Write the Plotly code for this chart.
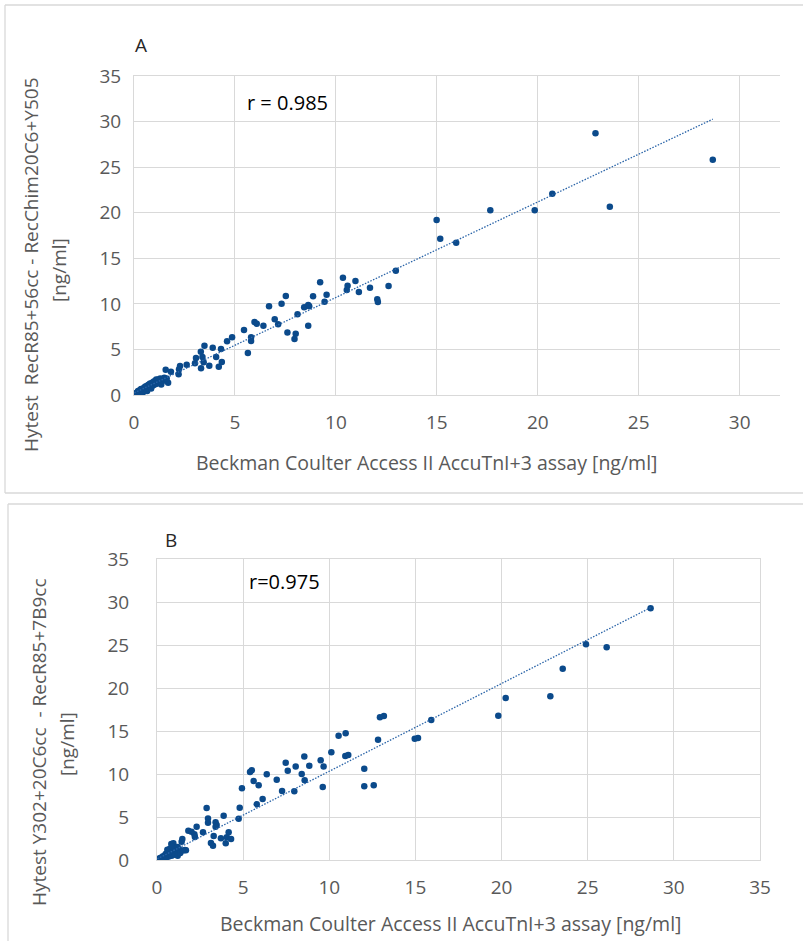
import plotly.graph_objects as go

# ---------------- data ----------------
a_x = [28.67, 22.86, 23.57, 20.72, 19.85, 17.65, 14.99, 15.17, 15.96, 12.97, 12.61, 11.69, 11.14, 12.05, 12.08,
       10.35, 9.22, 10.97, 10.58, 10.54, 7.52, 7.31, 6.69, 8.87, 9.54, 9.44, 8.63, 8.43, 8.68, 8.10,
       6.97, 7.14, 5.97, 6.08, 6.41, 8.63, 7.60, 8.01, 7.95, 5.45, 5.80, 5.80, 5.64, 4.86, 4.61,
       3.49, 3.90, 4.31, 3.31, 3.07, 3.39, 4.07, 3.45, 3.02, 4.35, 3.73, 4.20, 3.32, 2.61, 2.28,
       2.23, 1.83, 1.57, 2.21, 1.69,
       1.50, 1.45, 1.35, 1.30, 1.25, 1.20, 1.10, 1.05, 1.00, 0.95, 0.90, 0.85, 0.80, 0.75, 0.70,
       0.65, 0.60, 0.55, 0.50, 0.45, 0.40, 0.38, 0.33, 0.30, 0.27, 0.25, 0.22, 0.20, 0.18, 0.15,
       0.13, 0.11, 0.09, 0.07, 0.05, 0.04, 0.03, 0.02, 0.06, 0.10, 0.14, 0.16, 0.28, 0.35, 0.42,
       0.50, 0.58, 0.68, 0.78, 0.88, 0.98, 1.08, 1.15, 1.30, 1.40, 1.10, 1.62,
       0.20, 0.35, 0.55, 0.75, 0.95, 1.20, 0.45, 0.65, 0.85, 1.35]
a_y = [25.82, 28.71, 20.66, 22.09, 20.26, 20.26, 19.20, 17.15, 16.71, 13.64, 11.96, 11.78, 11.30, 10.50, 10.20,
       12.87, 12.36, 12.50, 12.00, 11.52, 10.86, 10.02, 9.73, 10.83, 11.00, 10.24, 9.87, 9.62, 9.73, 8.85,
       8.30, 7.75, 8.00, 7.83, 7.61, 7.61, 6.87, 6.73, 6.14, 7.13, 6.33, 5.93, 4.60, 6.33, 5.89,
       5.41, 5.19, 5.05, 4.75, 4.06, 4.17, 4.17, 3.58, 3.47, 3.62, 3.22, 3.11, 2.93, 3.33, 3.18,
       2.82, 2.56, 2.78, 2.27, 1.35,
       1.90, 1.75, 1.65, 1.80, 1.60, 1.45, 1.55, 1.35, 1.50, 1.20, 1.35, 1.10, 1.25, 1.00, 1.10,
       0.85, 0.95, 0.75, 0.80, 0.60, 0.65, 0.50, 0.45, 0.55, 0.35, 0.40, 0.30, 0.22, 0.30, 0.18,
       0.25, 0.12, 0.15, 0.08, 0.10, 0.04, 0.06, 0.02, 0.02, 0.05, 0.10, 0.08, 0.25, 0.30, 0.45,
       0.55, 0.65, 0.75, 0.90, 0.95, 1.10, 1.20, 1.30, 1.40, 1.50, 1.70, 1.80,
       0.45, 0.65, 0.90, 1.15, 1.40, 1.70, 0.30, 0.45, 0.70, 1.15]

b_x = [28.65, 26.10, 24.90, 23.55, 22.83, 20.24, 19.81, 15.92, 14.96, 15.15, 12.94, 13.17, 12.83, 10.54, 10.95,
       10.93, 11.10, 10.12, 8.55, 7.47, 9.50, 8.84, 8.05, 9.67, 7.59, 8.40, 5.40, 5.50, 6.37, 6.95,
       8.57, 5.61, 5.90, 12.03, 12.03, 12.58, 9.62, 4.93, 7.26, 7.97, 6.13, 5.79, 4.80, 4.74, 2.88,
       2.96, 2.96, 3.87, 3.40, 3.46, 3.40, 2.30, 1.82, 2.00, 2.17, 2.20, 2.67, 3.29, 4.16, 3.71,
       4.05, 4.30, 3.99, 3.13, 3.25, 1.47, 1.43, 0.83, 1.68, 1.14, 1.62, 0.95,
       1.00, 1.10, 1.30, 1.25, 0.90, 0.80, 0.70, 0.60, 0.65, 0.50, 0.55, 0.45, 0.40, 0.35, 0.30,
       0.25, 0.20, 0.15, 0.12, 0.10, 0.08, 0.05, 0.03, 0.02, 0.18, 0.28, 0.38, 0.48, 0.58, 0.68,
       0.75, 0.85, 0.95, 1.05, 1.20, 1.35, 0.60, 0.75, 0.90, 1.50, 1.20]
b_y = [29.27, 24.73, 25.08, 22.25, 19.03, 18.84, 16.78, 16.28, 14.11, 14.19, 16.59, 16.74, 13.99, 14.46, 14.73,
       12.09, 12.21, 12.52, 12.03, 11.31, 11.59, 10.97, 10.88, 10.88, 10.38, 10.00, 10.23, 10.43, 9.96, 9.33,
       9.26, 9.19, 8.68, 10.62, 8.57, 8.68, 8.49, 8.33, 8.02, 7.98, 7.08, 6.47, 6.09, 4.81, 6.05,
       4.84, 4.34, 5.15, 4.38, 4.07, 3.88, 3.88, 3.41, 3.29, 2.98, 2.67, 3.22, 2.79, 3.22, 2.52,
       2.64, 2.44, 1.94, 1.98, 1.66, 2.44, 2.13, 1.86, 1.13, 0.85, 1.16, 1.94,
       1.40, 1.00, 1.20, 0.90, 1.10, 0.90, 1.00, 0.80, 0.55, 0.70, 0.45, 0.50, 0.35, 0.45, 0.25,
       0.30, 0.15, 0.20, 0.08, 0.12, 0.05, 0.03, 0.05, 0.01, 0.10, 0.18, 0.25, 0.30, 0.35, 0.40,
       0.60, 0.50, 0.70, 0.60, 0.50, 0.80, 1.20, 1.30, 1.50, 1.10, 1.50]

# trendline parameters
a_slope, a_intercept = 1.048, 0.22
b_slope, b_intercept = 1.02, 0.12

a_r_label = "r = 0.985"
b_r_label = "r=0.975"
x_title = "Beckman Coulter Access II AccuTnI+3 assay [ng/ml]"
a_y_title = "Hytest\u00a0 RecR85+56cc - RecChim20C6+Y505"
b_y_title = "Hytest Y302+20C6cc\u00a0 - RecR85+7B9cc"
unit_line = "[ng/ml]"

a_xticks = [0, 5, 10, 15, 20, 25, 30]
b_xticks = [0, 5, 10, 15, 20, 25, 30, 35]
yticks = [0, 5, 10, 15, 20, 25, 30, 35]

# ---------------- figure ----------------
W, H = 803, 941
MARK = "#0B4A8B"
TREND = "#2A64A8"
GRID = "#D9D9D9"
TXT = "#595959"
FONT = "Open Sans"
DOT = "1.5px,1.5px"

def px(x):
    return x / W

def py(y):
    return 1 - y / H

fig = go.Figure()

fig.add_trace(go.Scatter(x=a_x, y=a_y, mode="markers", xaxis="x", yaxis="y",
                         marker=dict(color=MARK, size=6.5, line=dict(width=0)),
                         showlegend=False, hoverinfo="x+y"))
ax_ends = [min(a_x), max(a_x)]
fig.add_trace(go.Scatter(x=ax_ends, y=[a_slope * v + a_intercept for v in ax_ends],
                         mode="lines", xaxis="x", yaxis="y",
                         line=dict(color=TREND, width=1.3, dash=DOT), showlegend=False))

fig.add_trace(go.Scatter(x=b_x, y=b_y, mode="markers", xaxis="x2", yaxis="y2",
                         marker=dict(color=MARK, size=6.5, line=dict(width=0)),
                         showlegend=False, hoverinfo="x+y"))
bx_ends = [min(b_x), max(b_x)]
fig.add_trace(go.Scatter(x=bx_ends, y=[b_slope * v + b_intercept for v in bx_ends],
                         mode="lines", xaxis="x2", yaxis="y2",
                         line=dict(color=TREND, width=1.3, dash=DOT), showlegend=False))

tickfont = dict(family=FONT, size=19, color=TXT)
common = dict(showgrid=True, gridcolor=GRID, gridwidth=1, zeroline=False,
              showline=True, linecolor=GRID, linewidth=1, ticks="",
              tickfont=tickfont, fixedrange=True, automargin=False)

fig.update_layout(
    width=W, height=H,
    margin=dict(l=0, r=0, t=0, b=0, autoexpand=False),
    paper_bgcolor="white", plot_bgcolor="white",
    xaxis=dict(domain=[px(134), px(780)], range=[0, 32], tickvals=a_xticks,
               anchor="y", mirror=True, ticklabelstandoff=10, **common),
    yaxis=dict(domain=[py(395), py(76)], range=[0, 35], tickvals=yticks,
               anchor="x", mirror=False, ticklabelstandoff=8, **common),
    xaxis2=dict(domain=[px(157), px(760)], range=[0, 35], tickvals=b_xticks,
                anchor="y2", mirror=True, ticklabelstandoff=10, **common),
    yaxis2=dict(domain=[py(860), py(559)], range=[0, 35], tickvals=yticks,
                anchor="x2", mirror=True, ticklabelstandoff=23, **common),
)

def ann(text, x, y, size=19.5, color=TXT, angle=0):
    fig.add_annotation(text=text, x=px(x), y=py(y), xref="paper", yref="paper",
                       xanchor="center", yanchor="middle", showarrow=False,
                       textangle=angle, font=dict(family=FONT, size=size, color=color))

# panel A texts
ann("A", 141, 45, size=19, color="#262626")
ann(a_r_label, 287, 103, size=20, color="#000000")
ann(x_title, 426, 462)
ann(a_y_title, 31, 265, size=19, angle=-90)
ann(unit_line, 59, 270, size=19, angle=-90)

# panel B texts
ann("B", 170.5, 540, size=19, color="#262626")
ann(b_r_label, 284.5, 581, size=20, color="#000000")
ann(x_title, 450, 923)
ann(b_y_title, 39, 742, size=19, angle=-90)
ann(unit_line, 67, 744, size=19, angle=-90)

# chart-area frames (open sides run off the picture)
def seg(x0, y0, x1, y1):
    fig.add_shape(type="line", xref="paper", yref="paper",
                  x0=px(x0), y0=py(y0), x1=px(x1), y1=py(y1),
                  line=dict(color=GRID, width=1.3), layer="below")

seg(5, 5, W, 5)        # A top
seg(5, 5, 5, 493)      # A left
seg(5, 493, W, 493)    # A bottom
seg(8, 504, W, 504)    # B top
seg(8, 504, 8, H)      # B left

fig.write_html("out.html",
               config={"displayModeBar": False, "staticPlot": True},
               post_script="document.body.style.margin='0';document.body.style.overflow='hidden';")
